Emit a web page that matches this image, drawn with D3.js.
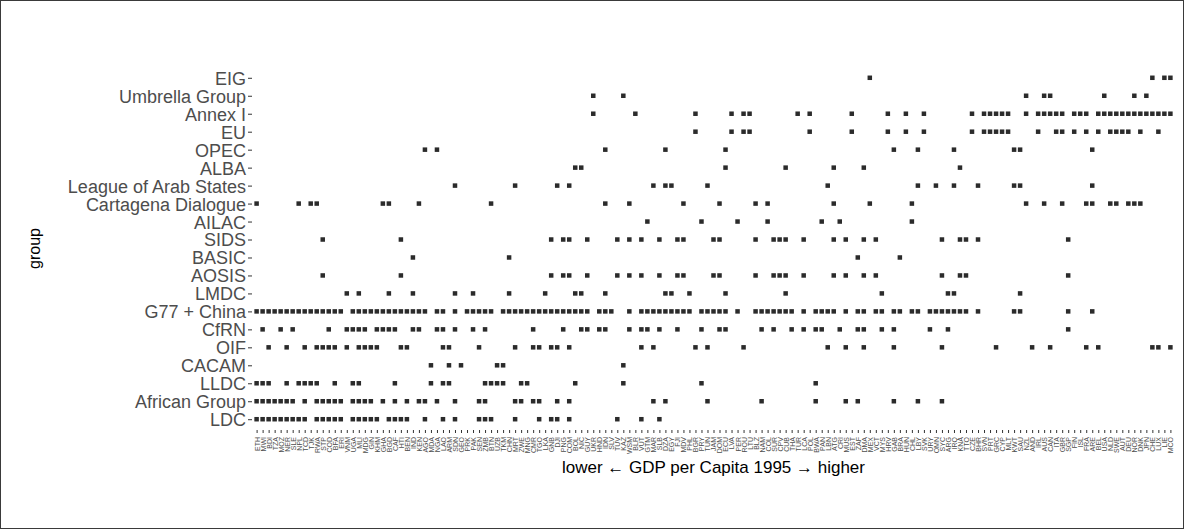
<!DOCTYPE html>
<html>
<head>
<meta charset="utf-8">
<script src="https://cdn.jsdelivr.net/npm/d3@7"></script>
<style>
  body { margin: 0; background: #fff; }
  svg { display: block; font-family: "Liberation Sans", Arial, Helvetica, sans-serif; }
</style>
</head>
<body>
<svg id="chart" width="1184" height="529"></svg>
<script>
// countries, ordered by GDP per capita 1995 (low -> high)
var countries = ["ETH","MWI","BDI","TZA","MOZ","NER","SLE","NPL","TCD","TJK",
  "RWA","STP","COD","BFA","ERI","VNM","UGA","MLI","MDG","GIN",
  "KHM","GHA","BGD","CAF","HTI","BEN","IND","KEN","AGO","MDA",
  "NGA","LAO","ARM","SDN","GEO","PRK","PAK","SEN","ZMB","BTN",
  "UZB","TKM","CHN","MRT","ZWE","MNG","CMR","TGO","LKA","GNB",
  "DJI","PNG","COM","BOL","NIC","GUY","UKR","HND","IDN","SLV",
  "TUV","KAZ","WSM","BLR","VUT","GTM","MAR","SLB","DZA","EGY",
  "FJI","MDV","PHL","BGR","PRY","TUN","JAM","DOM","ECU","LVA",
  "PER","ROU","LTU","BLZ","NAM","COL","SUR","CPV","CUB","THA",
  "TUR","LCA","POL","BWA","PAN","LBN","ATG","CRI","MUS","EST",
  "ZAF","DMA","MEX","VCT","MYS","HRV","GAB","BRA","HUN","CHL",
  "LBY","SVK","URY","OMN","SYC","ARG","IRQ","KNA","TTO","CZE",
  "BHR","SVN","PRT","GRC","CYP","MLT","KWT","SAU","NZL","AND",
  "IRL","AUS","CAN","ITA","GBR","SGP","FIN","ISL","FRA","ARE",
  "BEL","USA","NLD","SWE","AUT","DEU","NOR","DNK","JPN","CHE",
  "LUX","LIE","MCO"];

// negotiating groups, top to bottom
var groups = ["EIG","Umbrella Group","Annex I","EU","OPEC","ALBA",
  "League of Arab States","Cartagena Dialogue","AILAC","SIDS","BASIC",
  "AOSIS","LMDC","G77 + China","CfRN","OIF","CACAM","LLDC",
  "African Group","LDC"];

// members of each group
var eig = ["MEX","CHE","LIE","MCO"];
var umbrella = ["UKR","KAZ","NZL","AUS","CAN","USA","NOR","JPN"];
var annexI = ["UKR","BLR","BGR","LVA","ROU","LTU","TUR","POL","EST","HRV",
  "HUN","SVK","CZE","SVN","PRT","GRC","CYP","MLT","NZL","IRL","AUS","CAN",
  "ITA","GBR","FIN","ISL","FRA","BEL","USA","NLD","SWE","AUT","DEU","NOR",
  "DNK","JPN","CHE","LUX","LIE","MCO"];
var eu = ["BGR","LVA","ROU","LTU","POL","EST","HRV","HUN","SVK","CZE","SVN",
  "PRT","GRC","CYP","MLT","IRL","ITA","GBR","FIN","FRA","BEL","NLD","SWE",
  "AUT","DEU","DNK","LUX"];
var opec = ["AGO","NGA","IDN","DZA","ECU","GAB","LBY","IRQ","KWT","SAU","ARE"];
var alba = ["BOL","NIC","ECU","CUB","ATG","DMA","KNA"];
var arabLeague = ["SDN","MRT","DJI","COM","MAR","DZA","EGY","TUN","LBN","LBY",
  "OMN","IRQ","BHR","KWT","SAU","ARE"];
var cartagena = ["ETH","NPL","TJK","RWA","GHA","BGD","KEN","BTN","IDN","WSM",
  "MDV","DOM","BLZ","COL","ATG","MEX","CHL","NZL","AUS","GBR","FRA","ARE",
  "NLD","SWE","DEU","NOR","DNK"];
var ailac = ["GTM","PRY","PER","COL","PAN","CRI","CHL"];
var sids = ["STP","HTI","GNB","PNG","COM","GUY","TUV","WSM","VUT","SLB","FJI",
  "MDV","JAM","DOM","BLZ","SUR","CPV","CUB","LCA","ATG","MUS","DMA","VCT",
  "SYC","KNA","TTO","BHR","SGP"];
var basic = ["IND","CHN","ZAF","BRA"];
var aosis = ["STP","HTI","GNB","PNG","COM","GUY","TUV","WSM","VUT","SLB","FJI",
  "MDV","JAM","DOM","BLZ","SUR","CPV","CUB","LCA","ATG","MUS","DMA","VCT",
  "SYC","KNA","TTO","SGP"];
var lmdc = ["VNM","MLI","BGD","IND","SDN","PAK","CHN","LKA","BOL","NIC","IDN",
  "DZA","EGY","PHL","ECU","CUB","MYS","ARG","IRQ","SAU"];
var g77 = ["ETH","MWI","BDI","TZA","MOZ","NER","SLE","NPL","TCD","TJK","RWA",
  "STP","COD","BFA","ERI","UGA","MLI","MDG","GIN","KHM","GHA","BGD","CAF",
  "HTI","BEN","IND","KEN","AGO","NGA","LAO","SDN","PRK","PAK","SEN","ZMB",
  "BTN","TKM","CHN","MRT","ZWE","MNG","CMR","TGO","LKA","GNB","DJI","PNG",
  "COM","BOL","NIC","GUY","HND","IDN","SLV","WSM","VUT","GTM","MAR","SLB",
  "DZA","EGY","FJI","MDV","PHL","PRY","TUN","JAM","DOM","ECU","PER","BLZ",
  "NAM","COL","SUR","CPV","CUB","THA","LCA","BWA","PAN","LBN","ATG",
  "MUS","ZAF","DMA","VCT","MYS","GAB","BRA","CHL","LBY","URY","OMN","SYC",
  "ARG","IRQ","KNA","TTO","BHR","KWT","SAU","SGP","ARE"];
var cfrn = ["MWI","MOZ","SLE","COD","VNM","UGA","MLI","MDG","KHM","GHA","BGD",
  "CAF","IND","KEN","NGA","LAO","SDN","PAK","ZMB","CMR","PNG","NIC","GUY",
  "HND","IDN","WSM","VUT","GTM","SLB","FJI","PRY","DOM","ECU","NAM","SUR",
  "THA","LCA","BWA","PAN","CRI","ZAF","DMA","MYS","GAB","URY","ARG","SGP"];
var oif = ["BDI","NER","TCD","RWA","STP","COD","BFA","VNM","MLI","MDG","GIN",
  "KHM","HTI","BEN","LAO","ARM","SEN","MRT","CMR","TGO","GNB","DJI","COM",
  "VUT","MAR","BGR","TUN","ROU","LBN","MUS","DMA","GAB","SYC","GRC","AND",
  "CAN","FRA","BEL","CHE","LUX","MCO"];
var cacam = ["MDA","ARM","GEO","UZB","TKM","KAZ"];
var lldc = ["ETH","MWI","BDI","NER","NPL","TCD","TJK","RWA","BFA","UGA","MLI",
  "CAF","MDA","LAO","ARM","ZMB","BTN","UZB","TKM","ZWE","MNG","BOL","KAZ",
  "PRY","BWA"];
var african = ["ETH","MWI","BDI","TZA","MOZ","NER","SLE","TCD","RWA","STP",
  "COD","BFA","ERI","UGA","MLI","MDG","GIN","GHA","CAF","BEN","KEN","AGO",
  "NGA","SDN","SEN","ZMB","MRT","ZWE","CMR","TGO","DJI","COM","MAR","DZA",
  "TUN","NAM","BWA","MUS","ZAF","GAB","LBY","SYC"];
var ldc = ["ETH","MWI","BDI","TZA","MOZ","NER","SLE","NPL","TCD","RWA","STP",
  "COD","BFA","ERI","UGA","MLI","MDG","GIN","KHM","BGD","CAF","HTI","BEN",
  "AGO","LAO","SDN","SEN","ZMB","BTN","MRT","TGO","GNB","DJI","COM","TUV",
  "VUT","SLB"];

var memberLists = [eig, umbrella, annexI, eu, opec, alba, arabLeague, cartagena,
  ailac, sids, basic, aosis, lmdc, g77, cfrn, oif, cacam, lldc, african, ldc];

// flatten to one row per membership
var memberships = [];
groups.forEach(function(g, i) {
    memberLists[i].forEach(function(c) {
        memberships.push({ group: g, country: c });
    });
});

var width = 1184, height = 529;
var margin = { top: 67, right: 10, bottom: 99, left: 253 };
var panelRight = 1174;

var svg = d3.select('#chart');

// frame
svg.append('rect')
    .attr('x', 0.5).attr('y', 0.5)
    .attr('width', width - 1).attr('height', height - 1)
    .attr('fill', '#fff')
    .attr('stroke', '#3a3a3a')
    .attr('stroke-width', 1);

// scales
var xScale = d3.scalePoint()
    .domain(countries)
    .range([margin.left, panelRight])
    .padding(0.6);

var yScale = d3.scalePoint()
    .domain(groups)
    .range([margin.top, height - margin.bottom])
    .padding(0.6);

// axes
var xAxis = d3.axisBottom(xScale).tickSize(3).tickPadding(4);
var yAxis = d3.axisLeft(yScale).tickSize(4).tickPadding(2);

var gx = svg.append('g')
    .attr('class', 'axis x-axis')
    .attr('transform', 'translate(0,' + (height - margin.bottom) + ')')
    .call(xAxis);
gx.select('.domain').remove();
gx.selectAll('line').attr('stroke', '#333').attr('stroke-width', 1);
gx.selectAll('text')
    .attr('fill', '#4d4d4d')
    .style('font-size', '7px')
    .style('text-anchor', 'end')
    .attr('transform', 'rotate(-90)')
    .attr('x', -7)
    .attr('y', 0)
    .attr('dy', '0.35em');

var gy = svg.append('g')
    .attr('class', 'axis y-axis')
    .attr('transform', 'translate(' + (margin.left - 1) + ',0)')
    .call(yAxis);
gy.select('.domain').remove();
gy.selectAll('line').attr('stroke', '#333').attr('stroke-width', 1);
gy.selectAll('text')
    .attr('fill', '#4d4d4d')
    .attr('dy', '0.36em')
    .style('font-size', '18px');

// squares
var size = 4.5;
svg.append('g')
    .selectAll('rect')
    .data(memberships)
    .enter()
    .append('rect')
    .attr('x', d => xScale(d.country) - size / 2)
    .attr('y', d => yScale(d.group) - size / 2)
    .attr('width', size)
    .attr('height', size)
    .attr('fill', '#2b2b2b');

// text label for the x axis
svg.append('text')
    .attr('x', (margin.left + panelRight) / 2)
    .attr('y', 473)
    .style('text-anchor', 'middle')
    .style('font-size', '17px')
    .attr('fill', '#000')
    .text('lower \u2190 GDP per Capita 1995 \u2192 higher');

// text label for y-axis
svg.append('text')
    .attr('transform', 'rotate(-90)')
    .attr('x', -(margin.top + height - margin.bottom) / 2)
    .attr('y', 40)
    .style('text-anchor', 'middle')
    .style('font-size', '16px')
    .attr('fill', '#000')
    .text('group');
</script>
</body>
</html>
